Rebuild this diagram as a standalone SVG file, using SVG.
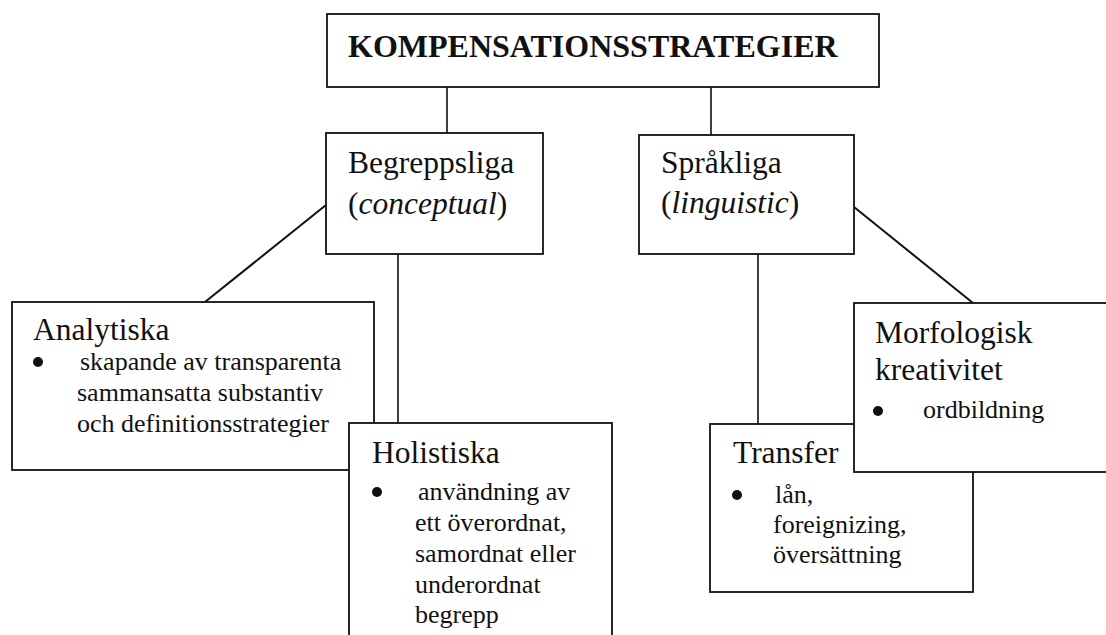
<svg xmlns="http://www.w3.org/2000/svg" width="1106" height="635" viewBox="0 0 1106 635">
<style>
.box{fill:#fff;stroke:#111;stroke-width:1.8}
.con{stroke:#111;stroke-width:1.6;fill:none}
.diag{stroke:#111;stroke-width:2;fill:none}
.title{font-family:"Liberation Serif","Times New Roman",serif;font-size:32px;font-weight:bold;fill:#111}
.hd{font-family:"Liberation Serif","Times New Roman",serif;font-size:31.5px;fill:#111}
.txt{font-family:"Liberation Serif","Times New Roman",serif;font-size:26px;fill:#111}
.dot{fill:#111}
</style>
<rect width="1106" height="635" fill="#fff"/>
<g id="connectors">
<line class="con" x1="447" y1="87" x2="447" y2="134"/>
<line class="con" x1="711" y1="87" x2="711" y2="135"/>
<line class="diag" x1="326" y1="205" x2="205" y2="302"/>
<line class="con" x1="398" y1="254" x2="398" y2="423"/>
<line class="diag" x1="854" y1="207" x2="973" y2="303"/>
<line class="con" x1="758" y1="254" x2="758" y2="424"/>
</g>
<g id="kompensationsstrategier">
<rect class="box" x="327" y="14" width="552" height="73"/>
<text class="title" x="348" y="57">KOMPENSATIONSSTRATEGIER</text>
</g>
<g id="begreppsliga">
<rect class="box" x="326" y="133" width="217" height="121"/>
<text class="hd" x="348" y="173">Begreppsliga</text>
<text class="hd" x="348" y="214">(<tspan font-style="italic">conceptual</tspan>)</text>
</g>
<g id="sprakliga">
<rect class="box" x="639" y="135" width="215" height="119"/>
<text class="hd" x="661" y="173">Språkliga</text>
<text class="hd" x="661" y="213">(<tspan font-style="italic">linguistic</tspan>)</text>
</g>
<g id="analytiska">
<rect class="box" x="12" y="302" width="362" height="168"/>
<text class="hd" x="33" y="340">Analytiska</text>
<circle class="dot" cx="38" cy="362" r="5"/>
<text class="txt" x="80" y="370">skapande av transparenta</text>
<text class="txt" x="77" y="401">sammansatta substantiv</text>
<text class="txt" x="77" y="432">och definitionsstrategier</text>
</g>
<g id="holistiska">
<rect class="box" x="349" y="423" width="263" height="230"/>
<text class="hd" x="372" y="463">Holistiska</text>
<circle class="dot" cx="377" cy="492" r="5"/>
<text class="txt" x="418" y="500">användning av</text>
<text class="txt" x="415" y="531">ett överordnat,</text>
<text class="txt" x="415" y="562">samordnat eller</text>
<text class="txt" x="415" y="593">underordnat</text>
<text class="txt" x="415" y="623">begrepp</text>
</g>
<g id="transfer">
<rect class="box" x="710" y="424" width="263" height="168"/>
<text class="hd" x="733" y="463">Transfer</text>
<circle class="dot" cx="737" cy="495" r="5"/>
<text class="txt" x="775" y="503">lån,</text>
<text class="txt" x="773" y="533">foreignizing,</text>
<text class="txt" x="773" y="563">översättning</text>
</g>
<g id="morfologisk">
<rect class="box" x="854" y="303" width="260" height="169"/>
<text class="hd" x="875" y="343">Morfologisk</text>
<text class="hd" x="875" y="380">kreativitet</text>
<circle class="dot" cx="878" cy="411" r="5"/>
<text class="txt" x="923" y="418">ordbildning</text>
</g>
</svg>
